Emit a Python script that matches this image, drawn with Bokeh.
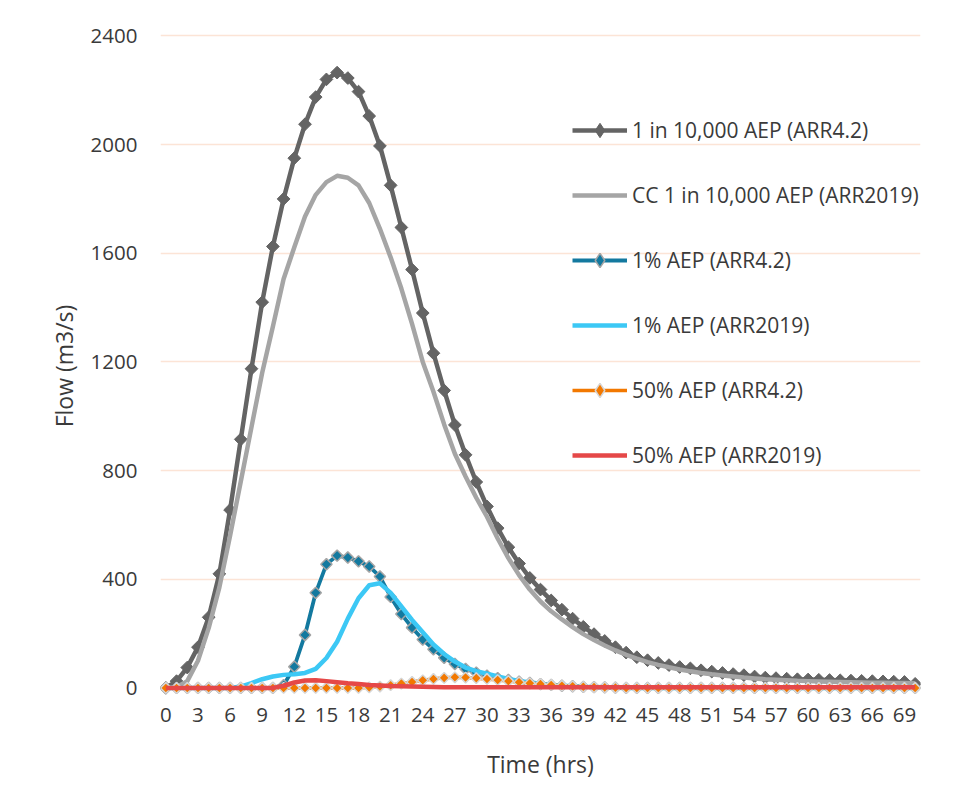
import numpy as np
from bokeh.plotting import figure
from bokeh.models import Range1d, FixedTicker, Legend, LegendItem
from bokeh.embed import file_html
from bokeh.resources import INLINE

hours = list(range(0, 71))
x_ticks = list(range(0, 70, 3))
y_ticks = [0, 400, 800, 1200, 1600, 2000, 2400]

aep10000_arr42 = [0, 25, 75, 150, 260, 420, 655, 915, 1175, 1420,
                  1625, 1800, 1950, 2075, 2175, 2240, 2265, 2245, 2195, 2105,
                  1995, 1850, 1695, 1540, 1380, 1232, 1095, 968, 858, 758,
                  668, 588, 518, 458, 405, 362, 322, 288, 255, 225,
                  198, 173, 150, 130, 113, 102, 92, 84, 77, 72,
                  65, 60, 55, 51, 47, 42, 38, 36, 34, 32,
                  31, 30, 29, 28, 27, 26, 25, 24, 23, 22, 15]

cc_aep10000_arr2019 = [0, 3, 25, 100, 220, 370, 560, 760, 960, 1160,
                       1330, 1505, 1622, 1735, 1815, 1862, 1885, 1878, 1850, 1785,
                       1690, 1585, 1470, 1340, 1200, 1090, 970, 862, 778, 700,
                       630, 550, 478, 415, 362, 318, 282, 252, 224, 198,
                       176, 156, 138, 122, 108, 95, 85, 76, 68, 61,
                       55, 50, 46, 42, 38, 35, 32, 30, 28, 26,
                       25, 24, 23, 22, 21, 20, 19, 19, 18, 18, 17]

aep1_arr42 = [0, 0, 0, 0, 0, 0, 0, 0, 0, 0,
              0, 10, 78, 195, 350, 455, 487, 480, 466, 447,
              410, 335, 272, 222, 178, 142, 111, 88, 70, 56,
              45, 36, 29, 23, 18, 14, 11, 8, 6, 4,
              3, 2, 1, 0, 0, 0, 0, 0, 0, 0,
              0, 0, 0, 0, 0, 0, 0, 0, 0, 0,
              0, 0, 0, 0, 0, 0, 0, 0, 0, 0, 0]

aep1_arr2019 = [0, 0, 0, 0, 0, 0, 0, 5, 18, 32,
                42, 48, 50, 55, 70, 110, 170, 255, 330, 378,
                385, 350, 300, 250, 205, 160, 125, 97, 75, 62,
                52, 42, 33, 26, 20, 15, 11, 8, 6, 4,
                3, 2, 1, 0, 0, 0, 0, 0, 0, 0,
                0, 0, 0, 0, 0, 0, 0, 0, 0, 0,
                0, 0, 0, 0, 0, 0, 0, 0, 0, 0, 0]

aep50_arr42 = [0, 0, 0, 0, 0, 0, 0, 0, 0, 0,
               0, 0, 0, 0, 0, 0, 0, 0, 0, 2,
               5, 10, 16, 22, 28, 33, 37, 39, 38, 36,
               33, 29, 25, 21, 17, 14, 11, 8, 6, 4,
               3, 2, 1, 0, 0, 0, 0, 0, 0, 0,
               0, 0, 0, 0, 0, 0, 0, 0, 0, 0,
               0, 0, 0, 0, 0, 0, 0, 0, 0, 0, 0]

aep50_arr2019 = [0, 0, 0, 0, 0, 0, 0, 0, 0, 0,
                 0, 8, 20, 27, 28, 25, 21, 17, 14, 11,
                 9, 7, 6, 5, 4, 3, 2, 2, 2, 2,
                 2, 2, 2, 2, 2, 2, 2, 2, 2, 2,
                 2, 2, 2, 2, 2, 2, 2, 2, 2, 2,
                 2, 2, 2, 2, 2, 2, 2, 2, 2, 2,
                 2, 2, 2, 2, 2, 2, 2, 2, 2, 2, 2]

series_names = ["1 in 10,000 AEP (ARR4.2)", "CC 1 in 10,000 AEP (ARR2019)",
                "1% AEP (ARR4.2)", "1% AEP (ARR2019)",
                "50% AEP (ARR4.2)", "50% AEP (ARR2019)"]

FONT = "Open Sans"
TXT = "#3a3a3a"
DARK, LIGHT, TEAL, SKY, ORANGE, RED = "#646464", "#A5A5A5", "#13799F", "#3CC8F5", "#F27800", "#E54848"

p = figure(width=954, height=802, output_backend="svg", toolbar_location=None,
           x_range=Range1d(-0.5, 70.5), y_range=Range1d(-50, 2420),
           min_border_left=160, min_border_right=34, min_border_top=30,
           min_border_bottom=101, background_fill_color="white",
           border_fill_color="white", outline_line_color=None)

# grid
p.xgrid.grid_line_color = None
p.ygrid.ticker = FixedTicker(ticks=y_ticks)
p.ygrid.grid_line_color = "#FCE4D6"
p.ygrid.grid_line_width = 1.3

# axes
for ax in (p.xaxis[0], p.yaxis[0]):
    ax.axis_line_color = None
    ax.major_tick_line_color = None
    ax.minor_tick_line_color = None
    ax.major_tick_out = 0
    ax.major_tick_in = 0
    ax.major_label_text_font = FONT
    ax.major_label_text_font_size = "20.5px"
    ax.major_label_text_color = TXT
    ax.axis_label_text_font = FONT
    ax.axis_label_text_font_size = "23px"
    ax.axis_label_text_font_style = "normal"
    ax.axis_label_text_color = TXT

p.xaxis.ticker = FixedTicker(ticks=x_ticks)
p.yaxis.ticker = FixedTicker(ticks=y_ticks)
p.xaxis.major_label_standoff = 6
p.yaxis.major_label_standoff = 23
p.xaxis.axis_label = "Time (hrs)"
p.yaxis.axis_label = "Flow (m3/s)"
p.xaxis.axis_label_standoff = 23
p.yaxis.axis_label_standoff = 8

ang = np.pi / 4

# series 1
l1 = p.line(hours, aep10000_arr42, line_color=DARK, line_width=4.5, line_join="round")
m1 = p.scatter(hours, aep10000_arr42, marker="square", angle=ang, size=9,
               fill_color=DARK, line_color=DARK, line_width=1)
# series 2
l2 = p.line(hours, cc_aep10000_arr2019, line_color=LIGHT, line_width=4.5, line_join="round")
# series 3
l3 = p.line(hours, aep1_arr42, line_color=TEAL, line_width=3.8, line_join="round")
m3 = p.scatter(hours, aep1_arr42, marker="square", angle=ang, size=8,
               fill_color=TEAL, line_color=LIGHT, line_width=1.5)
# series 4
l4 = p.line(hours, aep1_arr2019, line_color=SKY, line_width=4.5, line_join="round")
# series 5
l5 = p.line(hours, aep50_arr42, line_color=ORANGE, line_width=3.5, line_join="round")
m5 = p.scatter(hours, aep50_arr42, marker="square", angle=ang, size=7.5,
               fill_color=ORANGE, line_color="#D6D6D6", line_width=1.5)
# series 6
l6 = p.line(hours, aep50_arr2019, line_color=RED, line_width=4.5, line_join="round")

# legend-only diamond markers (hidden in the plot, drawn by the legend)
k1 = p.scatter(hours, aep10000_arr42, marker="diamond", fill_color=DARK,
               line_color=DARK, line_width=1, visible=False)
k3 = p.scatter(hours, aep1_arr42, marker="diamond", fill_color=TEAL,
               line_color=LIGHT, line_width=1.5, visible=False)
k5 = p.scatter(hours, aep50_arr42, marker="diamond", fill_color=ORANGE,
               line_color="#D6D6D6", line_width=1.5, visible=False)

items = [
    LegendItem(label=series_names[0], renderers=[l1, k1]),
    LegendItem(label=series_names[1], renderers=[l2]),
    LegendItem(label=series_names[2], renderers=[l3, k3]),
    LegendItem(label=series_names[3], renderers=[l4]),
    LegendItem(label=series_names[4], renderers=[l5, k5]),
    LegendItem(label=series_names[5], renderers=[l6]),
]
legend = Legend(items=items, location=(412, 228), padding=0, margin=0,
                border_line_color=None, background_fill_alpha=0,
                glyph_width=55, glyph_height=36, label_height=30, spacing=29,
                label_standoff=5, label_text_font=FONT,
                label_text_font_size="21px", label_text_color=TXT,
                inactive_fill_alpha=0)
p.add_layout(legend, "center")

open("out.html", "w").write(file_html(p, INLINE))
